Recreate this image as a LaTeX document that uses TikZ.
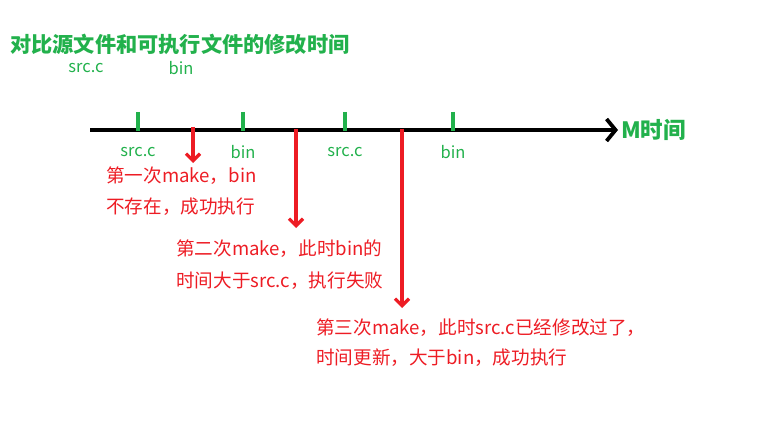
\documentclass[tikz,border=0pt]{standalone}
\usepackage{fontspec}
\setmainfont{Noto Sans CJK SC}
\usetikzlibrary{arrows.meta}
\definecolor{pg}{HTML}{22B14C}
\definecolor{pr}{HTML}{ED1C24}
\begin{document}
\begin{tikzpicture}[x=1pt,y=-1pt,
  gl/.style={text=pg,font=\fontsize{16.5}{16.5}\selectfont,inner sep=0},
  rt/.style={text=pr,font=\fontsize{18.6}{18.6}\selectfont,inner sep=0,anchor=west},
  tick/.style={draw=pg,line width=3.6},
  rar/.style={draw=pr,line width=3.6,-{Straight Barb[length=7,width=14,line width=3.2]}}]
\useasboundingbox (0,0) rectangle (765,422);
\node[anchor=west,text=pg,inner sep=0,font=\fontsize{21.2}{21.2}\selectfont\bfseries] (title) at (10,44) {对比源文件和可执行文件的修改时间};
\node[gl] (s0) at (86,68) {src.c};
\node[gl] (b0) at (181,68) {bin};
\coordinate (a0) at (90,130);
\coordinate (a1) at (618,130);
\draw[line width=4,-{Straight Barb[length=9,width=22,line width=3.8]}] (a0) -- (a1);
\node[anchor=west,text=pg,inner sep=0,font=\fontsize{22.5}{22.5}\selectfont\bfseries] (M) at (621,130) {M时间};
\foreach \x/\n/\t in {138/t1/src.c,243/t2/bin,345/t3/src.c,453/t4/bin}{
  \coordinate (\n a) at (\x,112); \coordinate (\n b) at (\x,131);
  \draw[tick] (\n a) -- (\n b);
  \node[gl] (\n l) at (\x,152) {\t};
}
\coordinate (r1a) at (193,127); \coordinate (r1b) at (193,163);
\coordinate (r2a) at (296,129); \coordinate (r2b) at (296,228);
\coordinate (r3a) at (402,129); \coordinate (r3b) at (402,308);
\draw[rar] (r1a) -- (r1b);
\draw[rar] (r2a) -- (r2b);
\draw[rar] (r3a) -- (r3b);
\node[rt] (l1) at (106,176) {第一次make，bin};
\node[rt] (l2) at (106,207) {不存在，成功执行};
\node[rt] (l3) at (176,249) {第二次make，此时bin的};
\node[rt] (l4) at (176,281) {时间大于src.c，执行失败};
\node[rt] (l5) at (316,328) {第三次make，此时src.c已经修改过了，};
\node[rt] (l6) at (316,358) {时间更新，大于bin，成功执行};
\end{tikzpicture}
\end{document}
